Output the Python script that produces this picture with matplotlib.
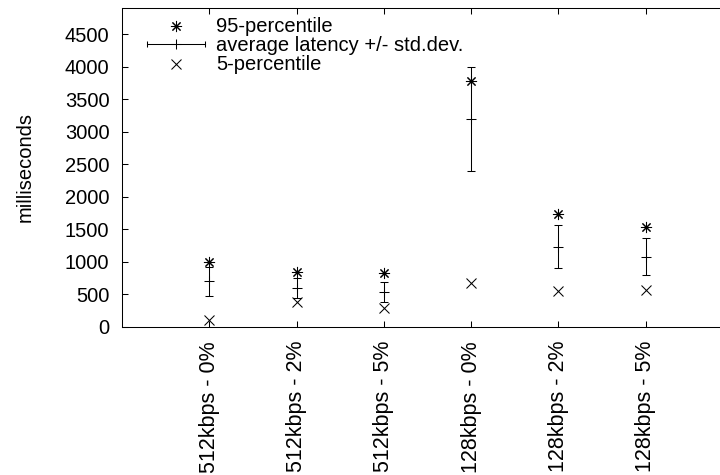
import matplotlib
matplotlib.use('Agg')
import matplotlib.pyplot as plt
from matplotlib.legend_handler import HandlerBase
from matplotlib.lines import Line2D
from matplotlib.container import ErrorbarContainer

categories = ["512kbps - 0%", "512kbps - 2%", "512kbps - 5%",
              "128kbps - 0%", "128kbps - 2%", "128kbps - 5%"]
p95 = [1000, 840, 830, 3780, 1740, 1530]
avg = [700, 600, 540, 3200, 1230, 1080]
std = [220, 150, 155, 800, 330, 280]
p5 = [110, 390, 290, 680, 560, 570]
yticks = [0, 500, 1000, 1500, 2000, 2500, 3000, 3500, 4000, 4500]

plt.rcParams['font.family'] = ['Liberation Sans', 'DejaVu Sans']
plt.rcParams['font.size'] = 14.5

W, H = 720, 475
fig = plt.figure(figsize=(W / 100, H / 100), dpi=100)
ax = fig.add_axes([122 / W, 148 / H, 611 / W, 319 / H])

x = list(range(1, len(categories) + 1))
lw = 0.75

h95, = ax.plot(x, p95, ls='none', marker=(8, 2, 0), ms=8, mew=lw,
               color='black', label='95-percentile')
eb = ax.errorbar(x, avg, yerr=std, fmt='+', ms=7.5, mew=lw, color='black',
                 ecolor='black', elinewidth=lw, capsize=2.6, capthick=lw,
                 label='average latency +/- std.dev.')
h5, = ax.plot(x, p5, ls='none', marker='x', ms=6.5, mew=lw, color='black',
              label='5-percentile')


class HandlerHErr(HandlerBase):
    def create_artists(self, legend, orig_handle, xdescent, ydescent,
                       width, height, fontsize, trans):
        y = height / 2 - ydescent
        x0, x1 = -xdescent, width - xdescent
        line = Line2D([x0, x1], [y, y], color='black', lw=lw)
        caps = Line2D([x0, x1], [y, y], ls='none', marker='|', ms=4.5,
                      mew=lw, color='black')
        mid = Line2D([(x0 + x1) / 2], [y], ls='none', marker='+', ms=7.5,
                     mew=lw, color='black')
        for a in (line, caps, mid):
            a.set_transform(trans)
        return [line, caps, mid]


ax.legend([h95, eb, h5],
          ['95-percentile', 'average latency +/- std.dev.', '5-percentile'],
          loc='upper left', bbox_to_anchor=(25 / 611, 1 - 9 / 319),
          frameon=False, borderpad=0, borderaxespad=0,
          handlelength=2.9, handletextpad=0.55, labelspacing=0.0,
          handleheight=0.5,
          handler_map={ErrorbarContainer: HandlerHErr()})

ax.set_xlim(0, 7)
ax.set_ylim(0, 4900)
ax.set_xticks(x)
ax.set_xticklabels(categories, rotation=90, va='top', ha='center',
                   fontsize=15.5)
ax.set_yticks(yticks)
ax.tick_params(axis='x', direction='in', top=True, bottom=True, length=4.5,
               width=lw, pad=10)
ax.tick_params(axis='y', direction='in', left=True, right=False, length=4.5,
               width=lw, pad=9)
for s in ax.spines.values():
    s.set_linewidth(lw)

ax.set_ylabel('milliseconds')
ax.yaxis.set_label_coords((35 - 122) / 611, 0.5)

fig.savefig('out.png', dpi=100)
